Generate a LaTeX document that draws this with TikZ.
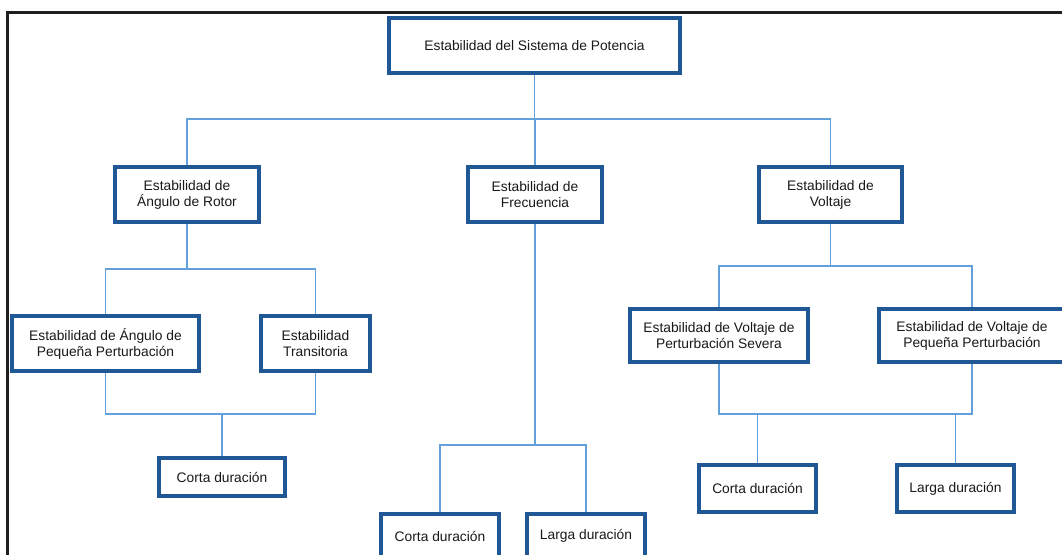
\documentclass[tikz,border=0pt]{standalone}
\usepackage{fontspec}
\setmainfont{Liberation Sans}
\usetikzlibrary{backgrounds}
\definecolor{boxblue}{RGB}{31,88,148}
\definecolor{linkblue}{RGB}{100,160,220}
\definecolor{txt}{RGB}{25,25,25}
\tikzset{
  box/.style={draw=boxblue, line width=4pt, fill=white, text=txt, align=center,
    inner sep=0pt, font=\fontsize{13.8}{16}\selectfont},
  conn/.style={draw=linkblue, line width=1.5pt},
  frame/.style={draw=black!88, line width=3pt}
}
\begin{document}
\begin{tikzpicture}[x=1pt,y=-1pt]
\useasboundingbox (0,0) rectangle (1062,554);
\clip (0,0) rectangle (1062,554);

% nodes
\node[box, minimum width=291pt, minimum height=55pt] (top) at (534.5,45.5) {Estabilidad del Sistema de Potencia};
\node[box, minimum width=144pt, minimum height=55pt] (rotor) at (187,194.5) {Estabilidad de\\Ángulo de Rotor};
\node[box, minimum width=134pt, minimum height=55pt] (freq) at (535,194.5) {Estabilidad de\\Frecuencia};
\node[box, minimum width=143pt, minimum height=55pt] (volt) at (830.5,194.5) {Estabilidad de\\Voltaje};
\node[box, minimum width=187pt, minimum height=55pt] (peqang) at (105.5,343.5) {Estabilidad de Ángulo de\\Pequeña Perturbación};
\node[box, minimum width=109pt, minimum height=55pt] (trans) at (315.5,343.5) {Estabilidad\\Transitoria};
\node[box, minimum width=126pt, minimum height=38pt] (cortaL) at (222,477) {Corta duración};
\node[box, minimum width=178pt, minimum height=53pt] (sev) at (719,335.5) {Estabilidad de Voltaje de\\Perturbación Severa};
\node[box, minimum width=186pt, minimum height=53pt] (peqvolt) at (972,335.5) {Estabilidad de Voltaje de\\Pequeña Perturbación};
\node[box, minimum width=118pt, minimum height=44pt] (cortaM) at (440,536) {Corta duración};
\node[box, minimum width=118pt, minimum height=44pt] (largaM) at (586,536) {Larga duración};
\node[box, minimum width=117pt, minimum height=47pt] (cortaR) at (757.5,488.5) {Corta duración};
\node[box, minimum width=117pt, minimum height=47pt] (largaR) at (955.5,488.5) {Larga duración};

% junction points
\coordinate (j1) at (534.5,119);
\coordinate (j2) at (187,269);
\coordinate (j3) at (221,414);
\coordinate (j4) at (535,445);
\coordinate (j5) at (830.5,266);
\coordinate (j6) at (719,414);

\begin{scope}[on background layer]
\fill[white] (0,0) rectangle (1062,554);
\draw[frame] (7,580) -- (7,12) -- (1080,12);
% level 1
\draw[conn] (top.south) -- (j1);
\draw[conn] (rotor.north) |- (j1) -| (volt.north);
\draw[conn] (freq.north) -- (freq.north |- j1);
% rotor branch
\draw[conn] (rotor.south) -- (j2);
\draw[conn] (peqang.north) |- (j2) -| (trans.north);
\draw[conn] (peqang.south) |- (j3) -| (trans.south);
\draw[conn] (cortaL.north) -- (cortaL.north |- j3);
% frequency branch
\draw[conn] (freq.south) -- (j4);
\draw[conn] (cortaM.north) |- (j4) -| (largaM.north);
% voltage branch
\draw[conn] (volt.south) -- (j5);
\draw[conn] (sev.north) |- (j5) -| (peqvolt.north);
\draw[conn] (sev.south) |- (j6) -| (peqvolt.south);
\draw[conn] (cortaR.north) -- (cortaR.north |- j6);
\draw[conn] (largaR.north) -- (largaR.north |- j6);
\end{scope}
\end{tikzpicture}
\end{document}
